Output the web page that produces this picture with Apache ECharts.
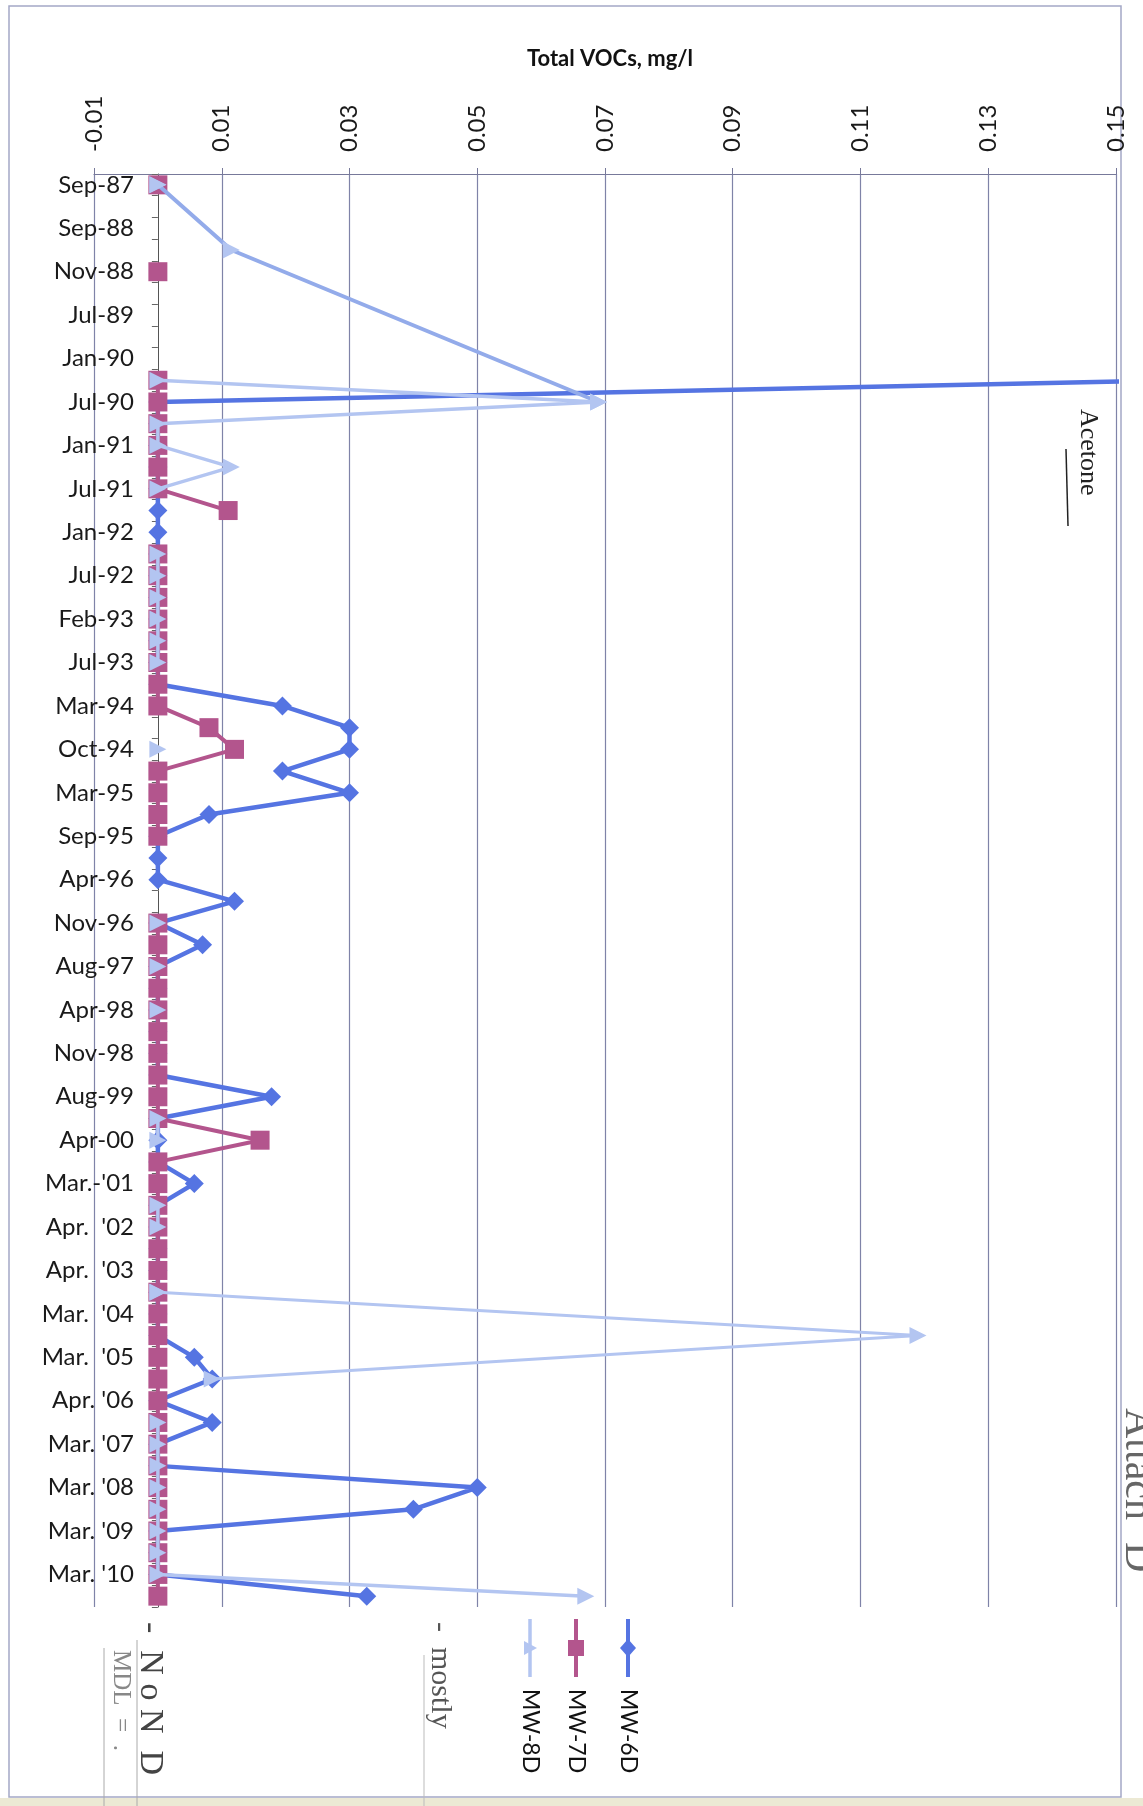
<!DOCTYPE html>
<html><head><meta charset="utf-8">
<script src="https://cdn.jsdelivr.net/npm/echarts@6/dist/echarts.min.js"></script>
<style>html,body{margin:0;padding:0;background:#fff}#c{width:1143px;height:1806px}</style>
</head><body><div id="c"></div>
<script>
// sampling dates shown on the category axis (every second sample is labelled)
const dateLabels = ['Sep-87','Sep-88','Nov-88','Jul-89','Jan-90','Jul-90','Jan-91','Jul-91','Jan-92','Jul-92',
  'Feb-93','Jul-93','Mar-94','Oct-94','Mar-95','Sep-95','Apr-96','Nov-96','Aug-97','Apr-98',
  'Nov-98','Aug-99','Apr-00',"Mar.-'01","Apr.  '02","Apr.  '03","Mar.  '04","Mar.  '05","Apr. '06","Mar. '07",
  "Mar. '08","Mar. '09","Mar. '10"];
const sampleCount = 66;
const valueTickLabels = ['-0.01','0.01','0.03','0.05','0.07','0.09','0.11','0.13','0.15'];

// Total VOCs, mg/l (null = no sample plotted)
const mw6d = [null,null,null,null,null,null,null,null,null,0.16,
  0,0,0,0,0,0,0,0,0,0,
  0,0,0,0,0.0195,0.030,0.030,0.0195,0.030,0.008,
  0,0,0,0.012,0,0.007,0,0,0,0,
  0,0,0.0178,0,0,0,0.0057,0,0,0,
  0,0,0,0,0.0057,0.0085,0,0.0085,0,0,
  0.050,0.040,0,0,0,0.0327];
const mw7d = [0,null,null,null,0,null,null,null,null,0,
  0,0,0,0,0,0.011,null,0,0,0,
  0,0,0,0,0,0.008,0.012,0,0,0,
  0,null,null,null,0,0,0,0,0,0,
  0,0,0,0,0.016,0,0,0,0,0,
  0,0,0,0,0,0,0,0,0,0,
  0,0,0,0,0,0];
const mw8d = [0,null,null,null,null,null,null,null,null,0,
  0.069,0,0,0.0115,0,null,null,0,0,0,
  0,0,0,null,null,null,0,null,null,null,
  null,null,null,null,0,null,0,null,0,null,
  null,null,null,0,0,null,null,0,0,null,
  null,0,null,null,null,null,null,0,0,0,
  0,0,0,0,0,0.067];
// MW-8D samples joined across gaps in the original plot
const mw8dEarly = [0,null,null,0.0115,null,null,null,null,null,null,
  0.069,null,null,null,null,null,null,null,null,null,
  null,null,null,null,null,null,null,null,null,null,
  null,null,null,null,null,null,null,null,null,null,
  null,null,null,null,null,null,null,null,null,null,
  null,null,null,null,null,null,null,null,null,null,
  null,null,null,null,null,null];
const mw8dLate = [null,null,null,null,null,null,null,null,null,null,
  null,null,null,null,null,null,null,null,null,null,
  null,null,null,null,null,null,null,null,null,null,
  null,null,null,null,null,null,null,null,null,null,
  null,null,null,null,null,null,null,null,null,null,
  null,0,null,0.119,null,0.0085,null,null,null,null,
  null,null,null,null,null,null];

const categories = [];
for (let i = 0; i < sampleCount; i++) categories.push(i % 2 === 0 ? dateLabels[i / 2] : '');

const C6 = '#5574e2', C7 = '#b3558d', C8 = '#b3c5f1';
const FONT = 'Lato, "Liberation Sans", sans-serif';
const HAND = '"Liberation Serif", serif';

const chart = echarts.init(document.getElementById('c'), null, {renderer: 'canvas'});
function lineSeries(name, data, color, symbol, size, width, extra) {
  return Object.assign({
    name, type: 'line', data, color, symbol, symbolSize: size,
    lineStyle: {width, color}, itemStyle: {color},
    showSymbol: true, clip: true, connectNulls: false, animation: false
  }, extra || {});
}
chart.setOption({
  animation: false,
  backgroundColor: '#ffffff',
  title: {text: 'Total VOCs, mg/l', left: 605, top: 43, textAlign: 'center',
    textStyle: {fontSize: 22, fontWeight: 'bold', fontFamily: FONT, color: '#111'}},
  grid: {left: 94, right: 27, top: 174, bottom: 199, containLabel: false, outerBoundsMode: 'none'},
  xAxis: {
    type: 'value', position: 'top', min: -0.01, max: 0.15, interval: 0.02,
    axisLine: {show: true, onZero: false, lineStyle: {color: '#77799a', width: 1.2}},
    axisTick: {show: true, length: 6, lineStyle: {color: '#77799a'}},
    axisLabel: {rotate: -90, margin: 22, fontSize: 24, fontFamily: FONT, color: '#1a1a1a',
      formatter: v => valueTickLabels[Math.round((v + 0.01) / 0.02)]},
    splitLine: {show: true, lineStyle: {color: '#7f83a8', width: 1.2}}
  },
  yAxis: {
    type: 'category', inverse: true, data: categories, boundaryGap: true,
    axisLine: {show: true, onZero: true, lineStyle: {color: '#555', width: 1}},
    axisTick: {show: true, interval: 0, length: 6, lineStyle: {color: '#666'}},
    axisLabel: {interval: 0, margin: -40, fontSize: 24, fontFamily: FONT, color: '#1a1a1a'},
    splitLine: {show: false}
  },
  series: [
    lineSeries('MW-6D', mw6d, C6, 'diamond', 19, 4.5, {z: 3}),
    lineSeries('MW-7D', mw7d, C7, 'rect', 19, 4, {z: 4}),
    lineSeries('MW-8D', mw8dEarly, C8, 'triangle', 17, 4, {z: 5, connectNulls: true, symbolRotate: -90, lineStyle: {width: 4, color: '#93abea'}}),
    lineSeries('MW-8D', mw8dLate, C8, 'triangle', 17, 3, {z: 5, connectNulls: true, symbolRotate: -90}),
    lineSeries('MW-8D', mw8d, C8, 'triangle', 17, 3.5, {z: 5, symbolRotate: -90})
  ],
  graphic: [
    // outer frame of the scanned sheet
    {type: 'rect', shape: {x: 9, y: 6, width: 1112, height: 1791}, style: {fill: null, stroke: '#a4a8c6', lineWidth: 1.5}, silent: true},
    {type: 'rect', shape: {x: 0, y: 1798, width: 1143, height: 8}, style: {fill: '#ece9d4'}, silent: true},
    // legend
    {type: 'line', shape: {x1: 628, y1: 1619, x2: 628, y2: 1677}, style: {stroke: C6, lineWidth: 4}},
    {type: 'polygon', shape: {points: [[628, 1639], [636, 1648], [628, 1657], [620, 1648]]}, style: {fill: C6}},
    {type: 'text', x: 628, y: 1689, rotation: -Math.PI / 2, style: {text: 'MW-6D', fontSize: 23, fontFamily: FONT, fill: '#111', align: 'left', verticalAlign: 'middle'}},
    {type: 'line', shape: {x1: 576, y1: 1619, x2: 576, y2: 1677}, style: {stroke: C7, lineWidth: 4}},
    {type: 'rect', shape: {x: 568, y: 1640, width: 16, height: 16}, style: {fill: C7}},
    {type: 'text', x: 576, y: 1689, rotation: -Math.PI / 2, style: {text: 'MW-7D', fontSize: 23, fontFamily: FONT, fill: '#111', align: 'left', verticalAlign: 'middle'}},
    {type: 'line', shape: {x1: 530, y1: 1619, x2: 530, y2: 1677}, style: {stroke: C8, lineWidth: 3.5}},
    {type: 'polygon', shape: {points: [[524, 1641], [537, 1648], [524, 1655]]}, style: {fill: C8}},
    {type: 'text', x: 530, y: 1689, rotation: -Math.PI / 2, style: {text: 'MW-8D', fontSize: 23, fontFamily: FONT, fill: '#111', align: 'left', verticalAlign: 'middle'}},
    // handwritten notes
    {type: 'text', x: 1088, y: 409, rotation: -Math.PI / 2, style: {text: 'Acetone', fontSize: 26, fontFamily: HAND, fill: '#222', align: 'left', verticalAlign: 'middle'}},
    {type: 'line', shape: {x1: 1066, y1: 449, x2: 1068, y2: 526}, style: {stroke: '#222', lineWidth: 1.5}},
    {type: 'text', x: 1137, y: 1408, rotation: -Math.PI / 2, style: {text: 'Attach', fontSize: 42, fontFamily: HAND, fill: '#666', align: 'left', verticalAlign: 'middle'}},
    {type: 'text', x: 1137, y: 1542, rotation: -Math.PI / 2, style: {text: 'D', fontSize: 42, fontFamily: HAND, fill: '#666', align: 'left', verticalAlign: 'middle'}},
    {type: 'text', x: 150, y: 1622, rotation: -Math.PI / 2, style: {text: '-  N o N  D', fontSize: 34, fontFamily: HAND, fill: '#444', align: 'left', verticalAlign: 'middle'}},
    {type: 'text', x: 121, y: 1650, rotation: -Math.PI / 2, style: {text: 'MDL  =  .', fontSize: 25, fontFamily: HAND, fill: '#888', align: 'left', verticalAlign: 'middle'}},
    {type: 'line', shape: {x1: 104, y1: 1648, x2: 104, y2: 1806}, style: {stroke: '#aaa', lineWidth: 1}},
    {type: 'line', shape: {x1: 137, y1: 1640, x2: 137, y2: 1806}, style: {stroke: '#aaa', lineWidth: 1}},
    {type: 'text', x: 440, y: 1622, rotation: -Math.PI / 2, style: {text: '-  mostly', fontSize: 30, fontFamily: HAND, fill: '#555', align: 'left', verticalAlign: 'middle'}},
    {type: 'line', shape: {x1: 424, y1: 1655, x2: 424, y2: 1806}, style: {stroke: '#bbb', lineWidth: 1}}
  ]
});
</script></body></html>
